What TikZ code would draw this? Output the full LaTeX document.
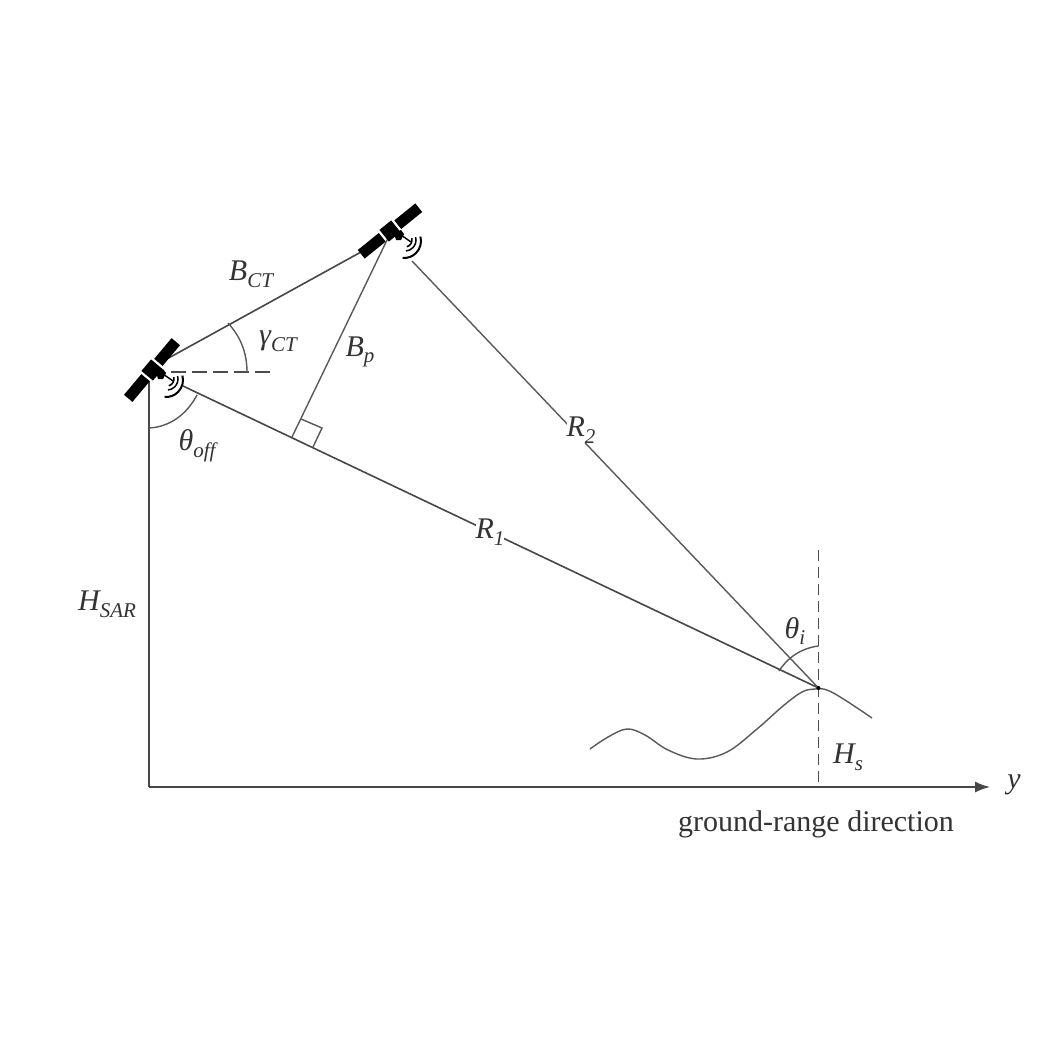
\documentclass[tikz,border=0pt]{standalone}
\usepackage{fontspec}
\setmainfont{Liberation Serif}
\usetikzlibrary{arrows.meta}
\newcommand\lab[2]{{\itshape #1\raisebox{-0.22em}{\fontsize{21}{21}\selectfont #2}}}
\tikzset{
  ln/.style={draw=black!72,line width=1.6pt},
  thin ln/.style={draw=black!65,line width=1.4pt},
  dash ln/.style={draw=black!70,line width=1.9pt,dash pattern=on 11pt off 6pt},
  dash long/.style={draw=black!70,line width=1.9pt,dash pattern=on 15pt off 6pt},
  lbl/.style={inner sep=0pt,text=black!80,font=\fontsize{30}{30}\selectfont},
  gaplbl/.style={lbl,fill=white,inner sep=0pt},
  pics/sat/.style={code={
    \begin{scope}[rotate=#1]
      \fill[black] (-37,-5.5) rectangle (-10,5.5);
      \fill[black] (10,-5.5) rectangle (37,5.5);
      \fill[black] (-7.5,-7.5) rectangle (7.5,7.5);
    \end{scope}
  }},
  pics/dish/.style={code={
    \fill[black] (4,2) -- (11,-1) -- (14,3) -- (11,9) -- (6,9) -- cycle;
    \draw[black,line width=1.4pt] (11,4) -- (21,11);
    \draw[black,line width=1.5pt] (15,9) ++(-15:7) arc (-15:75:7);
    \draw[black,line width=1.5pt] (15,9) ++(-15:11) arc (-15:85:11);
    \draw[black,line width=2pt] (14,10) ++(-15:17) arc (-15:95:17);
  }}
}
\begin{document}
\begin{tikzpicture}[x=1pt,y=-1pt]
\useasboundingbox (0,0) rectangle (1041,1041);
\fill[white] (0,0) rectangle (1041,1041);
% reference points
\coordinate (satA) at (152,370);
\coordinate (satB) at (390,231);
\coordinate (panelB) at (361,252);
\coordinate (satAedge) at (165,360);
\coordinate (footA) at (149,381);
\coordinate (origin) at (149,787);
\coordinate (axisEnd) at (990,787);
\coordinate (target) at (818.5,688);
\coordinate (r1Start) at (183,386);
\coordinate (r2Start) at (412,261);
\coordinate (footP) at (292,437);
\coordinate (bpTop) at (388,238);
\coordinate (dashA) at (171,372);
\coordinate (dashB) at (272,372);
\coordinate (dashTop) at (818.5,550);
\coordinate (dashBot) at (818.5,787);
% lines
\draw[ln] (satAedge) -- (panelB);
\draw[thin ln] (bpTop) -- (footP);
\draw[ln] (r1Start) -- (target);
\draw[thin ln] (r2Start) -- (target);
\draw[ln] (footA) -- (origin);
\draw[ln,-{Latex[length=15pt,width=11pt]}] (origin) -- (axisEnd);
\draw[dash long] (dashA) -- (dashB);
\draw[dash ln] (dashTop) -- (dashBot);
% right angle
\coordinate (raA) at (301,419);
\coordinate (raB) at (322,428);
\coordinate (raC) at (313,447);
\draw[thin ln] (raA) -- (raB) -- (raC);
% angle arcs
\coordinate (gA) at (228,323);
\coordinate (gB) at (247,372);
\draw[thin ln] (gA) .. controls (240,336) and (247,352) .. (gB);
\coordinate (oA) at (149,428);
\coordinate (oB) at (197,395);
\draw[thin ln] (oA) .. controls (170,427) and (187,414) .. (oB);
\coordinate (iA) at (779,671);
\coordinate (iB) at (818.5,646);
\draw[thin ln] (iA) .. controls (788,657) and (802,648) .. (iB);
% terrain
\draw[thin ln,line join=round] plot[smooth,tension=0.6] coordinates {(590,749) (608,737) (627,729) (645,735) (668,750) (697,759) (727,752) (757,729) (783,706) (802,692) (815,689) (827,690) (845,700) (872,718)};
\fill[black] (target) circle (2);
% satellites
\pic at (satA) {sat=50};
\pic at (satA) {dish};
\pic at (satB) {sat=39};
\pic at (satB) {dish};
% labels
\node[lbl] (lBct) at (251,274) {\lab{B}{CT}};
\node[lbl] (lGct) at (278,341) {\lab{γ}{CT}};
\node[lbl] (lBp) at (360,352) {\lab{B}{p}};
\node[lbl] (lThoff) at (197,446) {\lab{θ}{off}};
\node[lbl] (lHsar) at (107,604) {\lab{H}{SAR}};
\node[gaplbl] (lR1) at (490,532) {\lab{R}{1}};
\node[gaplbl] (lR2) at (581,430) {\lab{R}{2}};
\node[lbl] (lThi) at (795,631) {\lab{θ}{i}};
\node[lbl] (lHs) at (848,757) {\lab{H}{s}};
\node[lbl] (lY) at (1014,785) {\itshape y};
\node[lbl,font=\fontsize{30}{30}\selectfont] (lGround) at (816,824) {ground-range direction};
\end{tikzpicture}
\end{document}
